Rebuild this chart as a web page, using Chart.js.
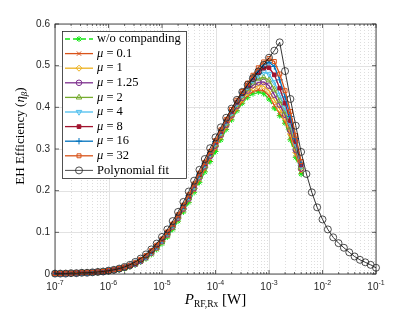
<!DOCTYPE html>
<html>
<head>
<meta charset="utf-8">
<script src="https://cdn.jsdelivr.net/npm/chart.js@4.4.1/dist/chart.umd.min.js"></script>
<style>
  html, body { margin: 0; padding: 0; background: #fff; }
  canvas { display: block; }
</style>
</head>
<body>
<canvas id="chart" width="415" height="312"></canvas>
<script>
// ── Data (exponents of P_RF,Rx in W, 0.1-decade steps) ─────────
const muLogP = [-7.0, -6.9, -6.8, -6.7, -6.6, -6.5, -6.4, -6.3, -6.2, -6.1,
                -6.0, -5.9, -5.8, -5.7, -5.6, -5.5, -5.4, -5.3, -5.2, -5.1,
                -5.0, -4.9, -4.8, -4.7, -4.6, -4.5, -4.4, -4.3, -4.2, -4.1,
                -4.0, -3.9, -3.8, -3.7, -3.6, -3.5, -3.4, -3.3, -3.2, -3.1,
                -3.0, -2.9, -2.8, -2.7, -2.6, -2.5, -2.4];
const fitLogP = [-7.0, -6.9, -6.8, -6.7, -6.6, -6.5, -6.4, -6.3, -6.2, -6.1,
                 -6.0, -5.9, -5.8, -5.7, -5.6, -5.5, -5.4, -5.3, -5.2, -5.1,
                 -5.0, -4.9, -4.8, -4.7, -4.6, -4.5, -4.4, -4.3, -4.2, -4.1,
                 -4.0, -3.9, -3.8, -3.7, -3.6, -3.5, -3.4, -3.3, -3.2, -3.1,
                 -3.0, -2.9, -2.8, -2.7, -2.6, -2.5, -2.4, -2.3, -2.2, -2.1,
                 -2.0, -1.9, -1.8, -1.7, -1.6, -1.5, -1.4, -1.3, -1.2, -1.1, -1.0];

const effNoComp = [0.000,0.001,0.001,0.001,0.002,0.002,0.003,0.003,0.004,0.005,
                   0.006,0.008,0.010,0.013,0.017,0.022,0.029,0.037,0.047,0.059,
                   0.073,0.089,0.107,0.127,0.149,0.172,0.196,0.220,0.245,0.270,
                   0.294,0.322,0.347,0.370,0.392,0.410,0.424,0.433,0.437,0.433,
                   0.420,0.398,0.380,0.362,0.322,0.280,0.240];
const effMu0_1 = [0.001,0.001,0.001,0.002,0.002,0.002,0.003,0.003,0.004,0.005,
                  0.007,0.008,0.011,0.014,0.018,0.023,0.030,0.039,0.049,0.061,
                  0.076,0.092,0.110,0.131,0.153,0.177,0.201,0.226,0.251,0.276,
                  0.301,0.327,0.351,0.374,0.395,0.413,0.428,0.438,0.442,0.440,
                  0.428,0.405,0.385,0.366,0.328,0.286,0.245];
const effMu1 = [0.001,0.001,0.002,0.002,0.002,0.003,0.003,0.004,0.004,0.005,
                0.007,0.009,0.011,0.014,0.018,0.024,0.031,0.040,0.050,0.063,
                0.078,0.094,0.113,0.134,0.156,0.180,0.205,0.230,0.256,0.281,
                0.306,0.331,0.355,0.378,0.400,0.419,0.435,0.446,0.452,0.451,
                0.440,0.418,0.396,0.374,0.336,0.292,0.250];
const effMu1_25 = [0.001,0.001,0.001,0.002,0.002,0.003,0.003,0.004,0.005,0.005,
                   0.007,0.009,0.012,0.015,0.019,0.024,0.031,0.040,0.051,0.064,
                   0.079,0.095,0.114,0.135,0.157,0.181,0.206,0.232,0.258,0.283,
                   0.308,0.334,0.358,0.381,0.403,0.423,0.440,0.453,0.460,0.461,
                   0.452,0.430,0.406,0.382,0.344,0.298,0.253];
const effMu2 = [0.001,0.001,0.002,0.002,0.002,0.003,0.003,0.004,0.005,0.006,
                0.007,0.009,0.012,0.015,0.019,0.025,0.032,0.041,0.052,0.065,
                0.080,0.097,0.116,0.137,0.159,0.183,0.208,0.234,0.260,0.286,
                0.311,0.337,0.361,0.384,0.406,0.427,0.445,0.460,0.469,0.472,
                0.465,0.443,0.416,0.390,0.352,0.305,0.256];
const effMu4 = [0.001,0.001,0.001,0.002,0.002,0.003,0.003,0.004,0.005,0.006,
                0.008,0.010,0.012,0.016,0.020,0.026,0.033,0.042,0.053,0.066,
                0.081,0.098,0.117,0.138,0.161,0.185,0.210,0.236,0.262,0.288,
                0.314,0.340,0.364,0.387,0.409,0.430,0.449,0.465,0.477,0.484,
                0.480,0.460,0.430,0.400,0.360,0.312,0.259];
const effMu8 = [0.001,0.001,0.002,0.002,0.002,0.003,0.003,0.004,0.005,0.006,
                0.008,0.010,0.013,0.016,0.020,0.026,0.033,0.043,0.054,0.067,
                0.082,0.099,0.118,0.139,0.162,0.186,0.212,0.238,0.264,0.290,
                0.316,0.342,0.367,0.390,0.412,0.433,0.453,0.470,0.484,0.494,
                0.495,0.478,0.446,0.410,0.368,0.318,0.262];
const effMu16 = [0.001,0.001,0.001,0.002,0.002,0.003,0.003,0.004,0.005,0.006,
                 0.008,0.010,0.013,0.016,0.021,0.027,0.034,0.043,0.055,0.068,
                 0.083,0.100,0.119,0.141,0.164,0.188,0.214,0.240,0.266,0.292,
                 0.318,0.344,0.369,0.393,0.415,0.436,0.456,0.474,0.490,0.502,
                 0.508,0.498,0.466,0.425,0.378,0.325,0.266];
const effMu32 = [0.001,0.001,0.002,0.002,0.003,0.003,0.004,0.004,0.005,0.006,
                 0.008,0.010,0.013,0.017,0.021,0.027,0.035,0.044,0.056,0.069,
                 0.084,0.101,0.120,0.142,0.165,0.190,0.216,0.242,0.268,0.294,
                 0.320,0.346,0.371,0.395,0.417,0.438,0.458,0.477,0.495,0.509,
                 0.517,0.510,0.480,0.440,0.390,0.332,0.270];
const effFit = [0.001,0.001,0.001,0.002,0.002,0.003,0.003,0.004,0.005,0.006,
                0.008,0.010,0.013,0.017,0.022,0.029,0.037,0.047,0.059,0.073,
                0.089,0.107,0.127,0.149,0.173,0.198,0.224,0.250,0.276,0.302,
                0.328,0.352,0.375,0.397,0.418,0.437,0.454,0.470,0.486,0.502,
                0.519,0.536,0.556,0.487,0.420,0.356,0.293,0.240,0.196,0.160,
                0.131,0.107,0.088,0.074,0.063,0.052,0.042,0.034,0.028,0.022,0.015];

const yTicks = [0, 0.1, 0.2, 0.3, 0.4, 0.5, 0.6];
const xDecades = [-7, -6, -5, -4, -3, -2, -1];

// ── Series styles (MATLAB-like) ────────────────────────────────
const SERIES = [
  { mu: null,   data: effNoComp, color: '#16e816', marker: 'star',     r: 3,   dash: [5, 3] },
  { mu: '0.1',  data: effMu0_1,  color: '#D95319', marker: 'crossRot', r: 3 },
  { mu: '1',    data: effMu1,    color: '#EDB120', marker: 'rectRot',  r: 3 },
  { mu: '1.25', data: effMu1_25, color: '#7E2F8E', marker: 'circle',   r: 2.8 },
  { mu: '2',    data: effMu2,    color: '#77AC30', marker: 'triangle', r: 3.2 },
  { mu: '4',    data: effMu4,    color: '#4DBEEE', marker: 'triangle', r: 3.2, rot: 180 },
  { mu: '8',    data: effMu8,    color: '#A2142F', marker: 'rect',     r: 2.6, filled: true },
  { mu: '16',   data: effMu16,   color: '#0072BD', marker: 'cross',    r: 3.2 },
  { mu: '32',   data: effMu32,   color: '#D95319', marker: 'rect',     r: 2.8 },
];

const SERIF = '"Liberation Serif", "DejaVu Serif", serif';
const SANS = '"Liberation Sans", Arial, sans-serif';
const AXIS_COLOR = '#262626';

const datasets = SERIES.map((s, i) => ({
  label: s.mu ? 'mu = ' + s.mu : 'w/o companding',
  data: muLogP.map((e, k) => ({ x: Math.pow(10, e), y: s.data[k] })),
  borderColor: s.color,
  backgroundColor: s.filled ? s.color : 'rgba(0,0,0,0)',
  borderWidth: 1.3,
  borderDash: s.dash || [],
  pointStyle: s.marker,
  pointRadius: s.r,
  pointRotation: s.rot || 0,
  pointBorderColor: s.color,
  pointBackgroundColor: s.filled ? s.color : 'rgba(0,0,0,0)',
  pointBorderWidth: 1,
  tension: 0,
  clip: false,
  order: 20 - i,
}));
datasets.push({
  label: 'Polynomial fit',
  data: fitLogP.map((e, k) => ({ x: Math.pow(10, e), y: effFit[k] })),
  borderColor: '#000',
  backgroundColor: 'rgba(0,0,0,0)',
  borderWidth: 0.8,
  pointStyle: 'circle',
  pointRadius: 3.5,
  pointBorderColor: '#222',
  pointBackgroundColor: 'rgba(0,0,0,0)',
  pointBorderWidth: 0.8,
  tension: 0,
  clip: false,
  order: 1,
});

// ── Small drawing helpers ──────────────────────────────────────
function seg(ctx, x1, y1, x2, y2) {
  ctx.beginPath(); ctx.moveTo(x1, y1); ctx.lineTo(x2, y2); ctx.stroke();
}

function marker(ctx, s, x, y) {
  ctx.save();
  ctx.strokeStyle = s.color;
  ctx.fillStyle = s.filled ? s.color : 'rgba(0,0,0,0)';
  ctx.lineWidth = s.bw || 1;
  ctx.setLineDash([]);
  Chart.helpers.drawPoint(ctx, { pointStyle: s.marker, rotation: s.rot || 0, radius: s.r, borderWidth: s.bw || 1 }, x, y);
  ctx.restore();
}

// ── Axes frame, MATLAB style grid, labels and legend ───────────
const framePlugin = {
  id: 'matlabFrame',
  beforeDatasetsDraw(chart) {
    const { ctx, chartArea: a, scales: { x, y } } = chart;
    ctx.save();
    // minor vertical grid (dotted)
    ctx.strokeStyle = '#cfcfcf';
    ctx.lineWidth = 0.7;
    ctx.setLineDash([1, 2]);
    for (let d = -7; d < -1; d++) {
      for (let m = 2; m <= 9; m++) {
        const px = Math.round(x.getPixelForValue(m * Math.pow(10, d))) + 0.5;
        seg(ctx, px, a.top, px, a.bottom);
      }
    }
    ctx.setLineDash([]);
    ctx.strokeStyle = '#e2e2e2';
    ctx.lineWidth = 1;
    xDecades.forEach(d => {
      const px = Math.round(x.getPixelForValue(Math.pow(10, d))) + 0.5;
      seg(ctx, px, a.top, px, a.bottom);
    });
    yTicks.forEach(v => {
      const py = Math.round(y.getPixelForValue(v)) + 0.5;
      seg(ctx, a.left, py, a.right, py);
    });
    ctx.restore();
  },
  afterDraw(chart) {
    const { ctx, chartArea: a, scales: { x, y } } = chart;
    ctx.save();
    // box
    ctx.strokeStyle = AXIS_COLOR;
    ctx.lineWidth = 0.8;
    ctx.strokeRect(a.left, a.top, a.right - a.left, a.bottom - a.top);
    // ticks
    ctx.lineWidth = 0.7;
    for (let d = -7; d <= -1; d++) {
      const px = x.getPixelForValue(Math.pow(10, d));
      seg(ctx, px, a.bottom, px, a.bottom - 4);
      seg(ctx, px, a.top, px, a.top + 4);
      if (d < -1) {
        for (let m = 2; m <= 9; m++) {
          const q = x.getPixelForValue(m * Math.pow(10, d));
          seg(ctx, q, a.bottom, q, a.bottom - 2);
          seg(ctx, q, a.top, q, a.top + 2);
        }
      }
    }
    yTicks.forEach(v => {
      const py = y.getPixelForValue(v);
      seg(ctx, a.left, py, a.left + 4, py);
      seg(ctx, a.right, py, a.right - 4, py);
    });

    // x tick labels 10^n
    ctx.fillStyle = AXIS_COLOR;
    ctx.textBaseline = 'alphabetic';
    xDecades.forEach(d => {
      const px = x.getPixelForValue(Math.pow(10, d));
      ctx.font = '10px ' + SANS;
      const wb = ctx.measureText('10').width;
      ctx.font = '7px ' + SANS;
      const ex = '-' + Math.abs(d);
      const we = ctx.measureText(ex).width;
      const x0 = px - (wb + we) / 2;
      ctx.font = '10px ' + SANS;
      ctx.textAlign = 'left';
      ctx.fillText('10', x0, a.bottom + 16);
      ctx.font = '7px ' + SANS;
      ctx.fillText(ex, x0 + wb, a.bottom + 11);
    });

    // x axis title: P_{RF,Rx} [W]
    ctx.fillStyle = '#000';
    const parts = [
      { t: 'P', f: 'italic 15px ' + SERIF, dy: 0 },
      { t: 'RF,Rx', f: '9.5px ' + SERIF, dy: 3 },
      { t: ' [W]', f: '15px ' + SERIF, dy: 0 },
    ];
    let tw = 0;
    parts.forEach(p => { ctx.font = p.f; p.w = ctx.measureText(p.t).width; tw += p.w; });
    let cx = (a.left + a.right) / 2 - tw / 2;
    parts.forEach(p => { ctx.font = p.f; ctx.textAlign = 'left'; ctx.fillText(p.t, cx, 304 + p.dy); cx += p.w; });

    // y axis title: EH Efficiency (eta_beta)
    ctx.save();
    ctx.translate(20, 136);
    ctx.rotate(-Math.PI / 2);
    const yp = [
      { t: 'EH Efficiency (', f: '13px ' + SERIF, dy: 0 },
      { t: 'η', f: 'italic 13px ' + SERIF, dy: 0 },
      { t: 'β', f: 'italic 9px ' + SERIF, dy: 3 },
      { t: ')', f: '13px ' + SERIF, dy: 0 },
    ];
    let yw = 0;
    yp.forEach(p => { ctx.font = p.f; p.w = ctx.measureText(p.t).width; yw += p.w; });
    let cy = -yw / 2;
    yp.forEach(p => { ctx.font = p.f; ctx.fillText(p.t, cy, 4 + p.dy); cy += p.w; });
    ctx.restore();

    // legend
    const lx = 62, ly = 31, lw = 124, lh = 147;
    ctx.fillStyle = '#fff';
    ctx.fillRect(lx, ly, lw, lh);
    ctx.strokeStyle = AXIS_COLOR;
    ctx.lineWidth = 0.8;
    ctx.strokeRect(lx + 0.5, ly + 0.5, lw, lh);
    const rows = SERIES.concat([{ mu: null, fit: true, color: '#222', marker: 'circle', r: 3.5, bw: 0.8 }]);
    rows.forEach((s, i) => {
      const ry = 39 + i * 14.6;
      ctx.strokeStyle = s.color;
      ctx.lineWidth = s.fit ? 0.8 : 1.3;
      ctx.setLineDash(s.dash || []);
      seg(ctx, 65, ry, 93, ry);
      ctx.setLineDash([]);
      marker(ctx, s, 79, ry);
      ctx.fillStyle = '#000';
      ctx.textAlign = 'left';
      ctx.textBaseline = 'middle';
      if (s.mu) {
        ctx.font = 'italic 12.5px ' + SERIF;
        ctx.fillText('μ', 97, ry);
        const w = ctx.measureText('μ').width;
        ctx.font = '12.5px ' + SERIF;
        ctx.fillText(' = ' + s.mu, 97 + w, ry);
      } else {
        ctx.font = '12.5px ' + SERIF;
        ctx.fillText(s.fit ? 'Polynomial fit' : 'w/o companding', 97, ry);
      }
    });
    ctx.restore();
  },
};

new Chart(document.getElementById('chart').getContext('2d'), {
  type: 'line',
  data: { datasets },
  options: {
    responsive: false,
    animation: false,
    layout: { padding: { top: 24, right: 39, left: 0, bottom: 0 } },
    plugins: { legend: { display: false }, tooltip: { enabled: false } },
    scales: {
      x: {
        type: 'logarithmic',
        min: 1e-7,
        max: 1e-1,
        ticks: { display: false },
        grid: { display: false },
        border: { display: false },
        afterFit: s => { s.height = 38; },
      },
      y: {
        type: 'linear',
        min: 0,
        max: 0.6,
        ticks: {
          stepSize: 0.1,
          padding: 5,
          color: AXIS_COLOR,
          font: { family: SANS, size: 10 },
        },
        grid: { display: false, drawTicks: false },
        border: { display: false },
        afterFit: s => { s.width = 55; },
      },
    },
  },
  plugins: [framePlugin],
});
</script>
</body>
</html>
